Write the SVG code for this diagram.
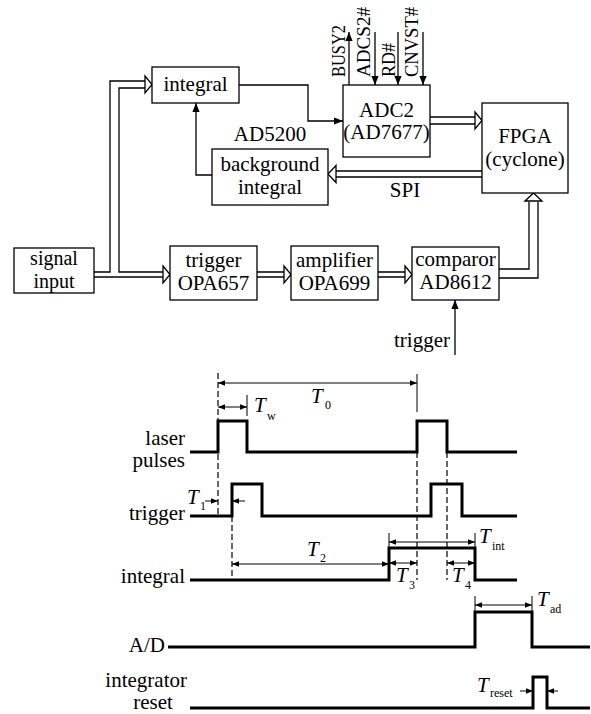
<svg xmlns="http://www.w3.org/2000/svg" width="591" height="714" viewBox="0 0 591 714">
<style>
text{font-family:"Liberation Serif","DejaVu Serif","Noto Serif",serif;font-size:21px;fill:#000}
.c{text-anchor:middle}
.r{text-anchor:end}
.it{font-style:italic}
.sub{font-size:12px}
.sm{font-size:20px}
.box{fill:#fff;stroke:#000;stroke-width:1.3}
.ln{fill:none;stroke:#000;stroke-width:1.3}
.hd{fill:#fff;stroke:#000;stroke-width:1.3;stroke-linejoin:miter}
.sig{fill:none;stroke:#000;stroke-width:3}
.dash{fill:none;stroke:#000;stroke-width:1.2;stroke-dasharray:6,3}
.dim{fill:none;stroke:#000;stroke-width:1}
.ctl{font-size:18px}
</style>
<defs>
<marker id="ah" viewBox="0 0 10 10" refX="10" refY="5" markerWidth="9" markerHeight="9" markerUnits="userSpaceOnUse" orient="auto-start-reverse">
<path d="M0,1 L10,5 L0,9 Z" fill="#000"/>
</marker>
<marker id="dh" viewBox="0 0 10 10" refX="10" refY="5" markerWidth="8" markerHeight="7" markerUnits="userSpaceOnUse" orient="auto-start-reverse">
<path d="M0,1 L10,5 L0,9 Z" fill="#000"/>
</marker>
</defs>

<g id="connectors">
<path class="ln" d="M94,272 H110 V81 H146"/>
<path class="ln" d="M146,88 H119 V272 H164"/>
<path class="ln" d="M94,277 H164"/>
<polygon class="hd" points="145,76 152,84.5 145,93"/>
<polygon class="hd" points="163,266 170,274.5 163,283"/>
<path class="ln" d="M257,272 H285 M257,277 H285"/>
<polygon class="hd" points="284,266 291,274.5 284,283"/>
<path class="ln" d="M378,272 H406 M378,277 H406"/>
<polygon class="hd" points="405,266 412,274.5 405,283"/>
<path class="ln" d="M499,269 H529 V202 M499,278 H538 V202"/>
<polygon class="hd" points="525,201 533.5,193 542,201"/>
<path class="ln" d="M430,117 H476 M430,124 H476"/>
<polygon class="hd" points="475,112 482,120.5 475,129"/>
<path class="ln" d="M482,171 H335 M482,177 H335"/>
<polygon class="hd" points="336,165.5 328,174 336,182.5"/>
<path class="ln" d="M239,85 H308 V121 H343" marker-end="url(#ah)"/>
<path class="ln" d="M212,175 H196 V103" marker-end="url(#ah)"/>
<path class="ln" d="M349,85 V32" marker-end="url(#ah)"/>
<path class="ln" d="M375,32 V85" marker-end="url(#ah)"/>
<path class="ln" d="M398,32 V85" marker-end="url(#ah)"/>
<path class="ln" d="M423,32 V85" marker-end="url(#ah)"/>
<path class="ln" d="M455,355 V300" marker-end="url(#ah)"/>
</g>

<g id="integral">
<rect class="box" x="152" y="67" width="87" height="36"/>
<text class="c" x="195.5" y="91">integral</text>
</g>
<g id="adc2">
<rect class="box" x="343" y="85" width="87" height="72"/>
<text class="c" x="386.5" y="117">ADC2</text>
<text class="c" x="386.5" y="139">(AD7677)</text>
</g>
<g id="adc-signals">
<text class="ctl" transform="translate(345,77) rotate(-90)" textLength="52" lengthAdjust="spacingAndGlyphs">BUSY2</text>
<text class="ctl" transform="translate(370,77) rotate(-90)" textLength="70" lengthAdjust="spacingAndGlyphs">ADCS2#</text>
<text class="ctl" transform="translate(395,77) rotate(-90)" textLength="34" lengthAdjust="spacingAndGlyphs">RD#</text>
<text class="ctl" transform="translate(418,77) rotate(-90)" textLength="70" lengthAdjust="spacingAndGlyphs">CNVST#</text>
</g>
<g id="fpga">
<rect class="box" x="482" y="103" width="86" height="90"/>
<text class="c" x="525" y="143">FPGA</text>
<text class="c" x="525" y="166">(cyclone)</text>
</g>
<g id="background-integral">
<text class="c" x="270" y="141">AD5200</text>
<rect class="box" x="212" y="149" width="116" height="56"/>
<text class="c" x="270" y="171">background</text>
<text class="c" x="270" y="194">integral</text>
</g>
<g id="spi-label">
<text class="c" x="405" y="197">SPI</text>
</g>
<g id="signal-input">
<rect class="box" x="14" y="248" width="80" height="45"/>
<text class="c sm" x="54" y="265">signal</text>
<text class="c sm" x="54" y="288">input</text>
</g>
<g id="trigger-opa657">
<rect class="box" x="170" y="246" width="87" height="54"/>
<text class="c" x="213.5" y="267">trigger</text>
<text class="c" x="213.5" y="290">OPA657</text>
</g>
<g id="amplifier-opa699">
<rect class="box" x="291" y="246" width="87" height="54"/>
<text class="c" x="334.5" y="267">amplifier</text>
<text class="c" x="334.5" y="290">OPA699</text>
</g>
<g id="comparor-ad8612">
<rect class="box" x="412" y="247" width="87" height="53"/>
<text class="c" x="455.5" y="266">comparor</text>
<text class="c" x="455.5" y="289">AD8612</text>
</g>
<g id="trigger-input">
<text class="r" x="450" y="347">trigger</text>
</g>

<g id="timing-labels">
<text class="r" x="185" y="445">laser</text>
<text class="r" x="185" y="467">pulses</text>
<text class="r" x="185" y="520">trigger</text>
<text class="r" x="185" y="583">integral</text>
<text class="r" x="165" y="652">A/D</text>
<text class="r" x="187" y="687">integrator</text>
<text class="c" x="153" y="709">reset</text>
</g>
<g id="timing-signals">
<path class="sig" d="M190,452 H218 V421 H247 V452 H417 V421 H447 V452 H517"/>
<path class="sig" d="M190,516 H232 V484 H262 V516 H431 V484 H462 V516 H517"/>
<path class="sig" d="M190,580 H389 V548 H475 V580 H517"/>
<path class="sig" d="M168,647 H475 V612 H532 V647 H590"/>
<path class="sig" d="M190,708 H533 V677 H547 V708 H590"/>
</g>
<g id="timing-guides">
<path class="dash" d="M218,373 V516"/>
<path class="dim" d="M417,374 V412"/>
<path class="dash" d="M417,452 V580"/>
<path class="dash" d="M447,452 V580"/>
<path class="dash" d="M232,516 V580"/>
<path class="dim" d="M247,395 V416"/>
<path class="dim" d="M389,533 V548"/>
<path class="dim" d="M475,533 V548"/>
<path class="dim" d="M475,596 V612"/>
<path class="dim" d="M532,596 V612"/>
</g>
<g id="timing-dimensions">
<path class="dim" d="M218,383 H417" marker-start="url(#dh)" marker-end="url(#dh)"/>
<path class="dim" d="M218,407 H247" marker-start="url(#dh)" marker-end="url(#dh)"/>
<path class="dim" d="M205,501 H218" marker-end="url(#dh)"/>
<path class="dim" d="M245,501 H232" marker-end="url(#dh)"/>
<path class="dim" d="M232,564 H389" marker-start="url(#dh)" marker-end="url(#dh)"/>
<path class="dim" d="M389,563 H417" marker-start="url(#dh)" marker-end="url(#dh)"/>
<path class="dim" d="M447,563 H475" marker-start="url(#dh)" marker-end="url(#dh)"/>
<path class="dim" d="M389,542 H475" marker-start="url(#dh)" marker-end="url(#dh)"/>
<path class="dim" d="M475,605 H532" marker-start="url(#dh)" marker-end="url(#dh)"/>
<path class="dim" d="M520,691 H533" marker-end="url(#dh)"/>
<path class="dim" d="M558,691 H547" marker-end="url(#dh)"/>
</g>
<g id="timing-dimension-labels">
<text class="it" x="311" y="403">T</text><text class="sub" x="325" y="409">0</text>
<text class="it" x="254" y="412">T</text><text class="sub" x="267" y="420">w</text>
<text class="it" x="187" y="504">T</text><text class="sub" x="200" y="510">1</text>
<text class="it" x="307" y="556">T</text><text class="sub" x="320" y="562">2</text>
<text class="it" x="396" y="582">T</text><text class="sub" x="409" y="589">3</text>
<text class="it" x="452" y="582">T</text><text class="sub" x="465" y="589">4</text>
<text class="it" x="479" y="543">T</text><text class="sub" x="492" y="550">int</text>
<text class="it" x="537" y="606">T</text><text class="sub" x="550" y="613">ad</text>
<text class="it" x="477" y="692">T</text><text class="sub" x="490" y="697">reset</text>
</g>
</svg>
